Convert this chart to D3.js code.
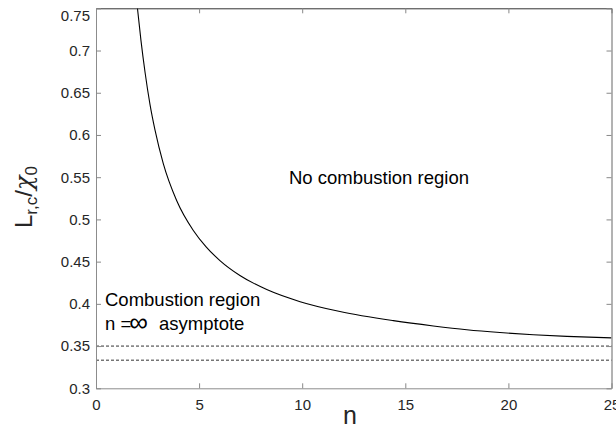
<!DOCTYPE html>
<html><head><meta charset="utf-8">
<script src="https://cdn.jsdelivr.net/npm/d3@7"></script>
<style>
html,body{margin:0;padding:0;background:#fff;}
svg{display:block;font-family:"Liberation Sans",Arial,sans-serif;}
</style></head>
<body><svg id="c" width="616" height="428"></svg>
<script>
// ---- data ----
const nValues = [2.01, 2.18, 2.38, 2.62, 2.86, 3.26, 3.91, 4.72, 5.34, 6.01, 6.98, 8.28, 9.90, 11.83, 14.42, 16.36, 17.98, 19.59, 21.21, 22.83, 25.0];
const ratioValues = [0.75, 0.712, 0.674, 0.636, 0.606, 0.5664, 0.5224, 0.4869, 0.4675, 0.4513, 0.4336, 0.4169, 0.4026, 0.3909, 0.3801, 0.3738, 0.3693, 0.366, 0.3634, 0.3615, 0.3597];
const asymptoteValues = [0.35, 0.3333];
const xTickValues = [0, 5, 10, 15, 20, 25];
const yTickValues = [0.3, 0.35, 0.4, 0.45, 0.5, 0.55, 0.6, 0.65, 0.7, 0.75];
const yTickLabels = ["0.3","0.35","0.4","0.45","0.5","0.55","0.6","0.65","0.7","0.75"];

const svg = d3.select("#c");
const L = 96, R = 611.5, T = 8.3, B = 388.3;
const x = d3.scaleLinear().domain([0, 25]).range([L, R]);
const y = d3.scaleLinear().domain([0.3, 0.75]).range([B, T]);

svg.append("defs").append("clipPath").attr("id","clip")
  .append("rect").attr("x",L).attr("y",T).attr("width",R-L).attr("height",B-T);

// dashed asymptote lines
svg.append("g").selectAll("line").data(asymptoteValues).join("line")
  .attr("x1", x(0)).attr("x2", x(25))
  .attr("y1", d => y(d)).attr("y2", d => y(d))
  .attr("stroke", "#333").attr("stroke-width", 1)
  .attr("stroke-dasharray", "3,2");

// curve
const pts = nValues.map((n,i)=>[n, ratioValues[i]]);
svg.append("path").datum(pts)
  .attr("clip-path","url(#clip)")
  .attr("fill","none").attr("stroke","#000").attr("stroke-width",1.1)
  .attr("d", d3.line().x(d=>x(d[0])).y(d=>y(d[1])).curve(d3.curveMonotoneX));

// axes
const tickCol = "#888";
function styleAxis(g, domainCol){
  g.select(".domain").attr("stroke", domainCol).attr("stroke-width",1);
  g.selectAll(".tick line").attr("stroke", tickCol);
  g.selectAll(".tick text").attr("fill","#262626").style("font-size","15px")
    .style("font-family",'"Liberation Sans",Arial,sans-serif');
}
const gTop = svg.append("g").attr("transform",`translate(0,${T})`)
  .call(d3.axisTop(x).tickValues(xTickValues).tickSize(-5).tickSizeOuter(0).tickFormat(""));
styleAxis(gTop, "#333");
const gRight = svg.append("g").attr("transform",`translate(${R},0)`)
  .call(d3.axisRight(y).tickValues(yTickValues).tickSize(-5).tickSizeOuter(0).tickFormat(""));
styleAxis(gRight, "#666");
const gBottom = svg.append("g").attr("transform",`translate(0,${B})`)
  .call(d3.axisBottom(x).tickValues(xTickValues).tickSize(-5).tickSizeOuter(0).tickPadding(11).tickFormat(d3.format("d")));
styleAxis(gBottom, "#8c8c8c");
const gLeft = svg.append("g").attr("transform",`translate(${L},0)`)
  .call(d3.axisLeft(y).tickValues(yTickValues).tickSize(-5).tickSizeOuter(0).tickPadding(6)
    .tickFormat((d,i)=>yTickLabels[i]));
styleAxis(gLeft, "#8c8c8c");
// top label sits lower in the reference
gLeft.selectAll(".tick text").filter(d => d === 0.75).attr("dy","0.32em").attr("y", 7);

// axis titles
svg.append("text").attr("x", 350).attr("y", 424).attr("text-anchor","middle")
  .style("font-size","25px").attr("fill","#262626").text("n");

const yl = svg.append("text").attr("transform","translate(32,197) rotate(-90)")
  .attr("text-anchor","middle").attr("fill","#262626").style("font-size","24px");
yl.append("tspan").text("L");
yl.append("tspan").attr("dy",5).style("font-size","17px").text("r,c");
yl.append("tspan").attr("dy",-5).text("/");
yl.append("tspan").style("font-family","'DejaVu Serif',serif").style("font-style","italic").text("χ");
yl.append("tspan").attr("dy",5).style("font-size","17px").text("0");

// annotations
const ann = svg.append("g").style("font-size","18.5px").attr("fill","#000");
ann.append("text").attr("x",289).attr("y",184).text("No combustion region");
ann.append("text").attr("x",105).attr("y",305.5).text("Combustion region");
const asy = ann.append("text").attr("x",105).attr("y",330);
asy.append("tspan").text("n =");
asy.append("tspan").attr("dx",-2).attr("dy",1).style("font-size","26px").style("font-weight","300").text("∞");
asy.append("tspan").attr("x",159).attr("dy",-1).text("asymptote");
</script></body></html>
